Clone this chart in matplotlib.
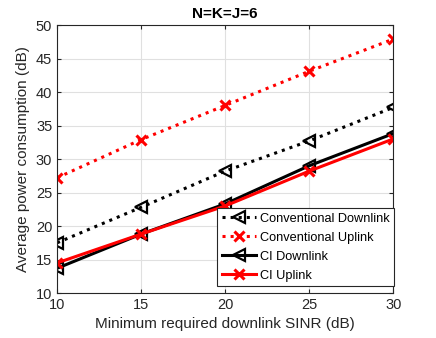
import numpy as np
import matplotlib
matplotlib.use("Agg")
import matplotlib.pyplot as plt

# values
sinr = [10, 15, 20, 25, 30]
conv_dl = [17.5, 22.8, 28.2, 32.7, 37.7]
conv_ul = [27.2, 32.9, 38.0, 43.1, 47.9]
ci_dl = [13.7, 18.8, 23.3, 29.0, 33.8]
ci_ul = [14.5, 18.8, 23.0, 28.2, 33.0]

plt.rcParams['font.family'] = ['Liberation Sans', 'DejaVu Sans']

fig = plt.figure(figsize=(4.36, 3.38), dpi=100)
ax = fig.add_axes([0.131, 0.133, 0.771, 0.793])

ax.plot(sinr, conv_dl, color='k', linestyle=':', linewidth=2.2, marker='<',
        markersize=8.5, markerfacecolor='none', markeredgewidth=1.6, label='Conventional Downlink')
ax.plot(sinr, conv_ul, color='r', linestyle=':', linewidth=2.2, marker='x',
        markersize=7, markeredgewidth=2.2, label='Conventional Uplink')
ax.plot(sinr, ci_dl, color='k', linestyle='-', linewidth=2.2, marker='<',
        markersize=8.5, markerfacecolor='none', markeredgewidth=1.6, label='CI Downlink')
ax.plot(sinr, ci_ul, color='r', linestyle='-', linewidth=2.2, marker='x',
        markersize=7, markeredgewidth=2.2, label='CI Uplink')

ax.set_xlim(10, 30)
ax.set_ylim(10, 50)
ax.set_xticks([10, 15, 20, 25, 30])
ax.set_yticks(np.arange(10, 51, 5))
ax.grid(True, color='#e0e0e0', linewidth=0.8)
ax.set_axisbelow(True)
ax.tick_params(direction='in', top=True, right=True, labelsize=10.5, colors='#262626', length=3)
for s in ax.spines.values():
    s.set_color('#262626')
    s.set_linewidth(0.8)

ax.set_xlabel('Minimum required downlink SINR (dB)', fontsize=11, color='#262626')
ax.set_ylabel('Average power consumption (dB)', fontsize=11, color='#262626')
ax.set_title('N=K=J=6', fontsize=11, fontweight='bold', pad=5)

leg = ax.legend(loc='lower right', bbox_to_anchor=(1.003, 0.026), fontsize=9.2,
                fancybox=False, framealpha=1, edgecolor='#262626', handlelength=2.7,
                borderpad=0.35, labelspacing=0.55, handletextpad=0.3, borderaxespad=0)
leg.get_frame().set_linewidth(0.8)

fig.savefig('out.png', dpi=100)
